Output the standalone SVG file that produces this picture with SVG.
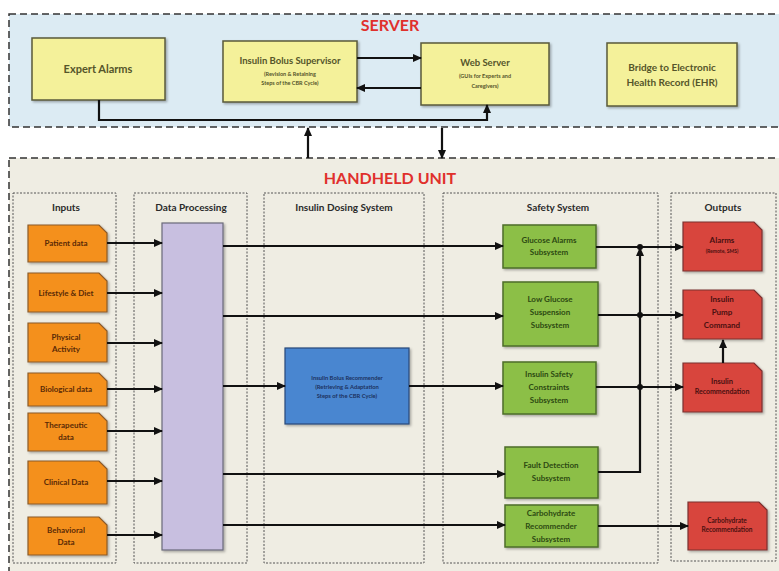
<svg xmlns="http://www.w3.org/2000/svg" width="779" height="571" viewBox="0 0 779 571">
<style>
text{font-family:Lato,"Open Sans","Liberation Sans",sans-serif;font-weight:bold;text-anchor:middle}
.title{fill:#e0302c;font-size:16px}
.col{fill:#2a2a2a;font-size:10px}
.yel{fill:#f4f19a;stroke:#5a5a3a;stroke-width:1.5}
.yt{fill:#55552a}
.inp{fill:#f4901e;stroke:#8a5a2a;stroke-width:1.2}
.it{fill:#5a2a06;font-size:8px}
.grn{fill:#8cbf47;stroke:#4d6e2a;stroke-width:1.5}
.gt{fill:#2d4a12;font-size:8px}
.red{fill:#d8453c;stroke:#7a3030;stroke-width:1.2}
.rt{fill:#4a1010}
.frame{stroke:#333;stroke-width:1.5;stroke-dasharray:7 4}
.sub{fill:none;stroke:#555;stroke-width:1;stroke-dasharray:2 1.5}
#connectors path{fill:none;stroke:#111;stroke-width:2.2}
</style>
<defs>
<marker id="ar" markerWidth="9" markerHeight="8" refX="8" refY="4" orient="auto" markerUnits="userSpaceOnUse">
<path d="M0,0 L9,4 L0,8 Z" fill="#111"/>
</marker>
<filter id="sh" x="-10%" y="-10%" width="130%" height="130%">
<feDropShadow dx="1.5" dy="1.5" stdDeviation="1" flood-color="#000" flood-opacity="0.3"/>
</filter>
</defs>
<rect width="779" height="571" fill="#ffffff"/>

<g id="server">
<rect class="frame" x="9" y="14" width="790" height="113" fill="#dcebf3"/>
<text class="title" x="390" y="31">SERVER</text>
</g>
<g id="handheld">
<rect class="frame" x="9" y="158" width="790" height="430" fill="#efede3"/>
<text class="title" x="390" y="184">HANDHELD UNIT</text>
</g>

<g id="col-inputs"><rect class="sub" x="13" y="193" width="103" height="370"/><text class="col" x="66" y="211">Inputs</text></g>
<g id="col-processing"><rect class="sub" x="134" y="193" width="113" height="370"/><text class="col" x="191" y="211">Data Processing</text></g>
<g id="col-dosing"><rect class="sub" x="264" y="193" width="160" height="370"/><text class="col" x="344" y="211">Insulin Dosing System</text></g>
<g id="col-safety"><rect class="sub" x="443" y="193" width="215" height="370"/><text class="col" x="558" y="211">Safety System</text></g>
<g id="col-outputs"><rect class="sub" x="671" y="193" width="105" height="368"/><text class="col" x="723" y="211">Outputs</text></g>

<g id="expert-alarms"><rect class="yel" x="32" y="38" width="133" height="62" filter="url(#sh)"/><text class="yt" x="98" y="73" font-size="11">Expert Alarms</text></g>
<g id="bolus-supervisor"><rect class="yel" x="223" y="41" width="134" height="61" filter="url(#sh)"/>
<text class="yt" x="290" y="64" font-size="9.5">Insulin Bolus Supervisor</text>
<text class="yt" x="290" y="76" font-size="5.5">(Revision &amp; Retaining</text>
<text class="yt" x="290" y="85" font-size="5.5">Steps of the CBR Cycle)</text></g>
<g id="web-server"><rect class="yel" x="421" y="43" width="128" height="62" filter="url(#sh)"/>
<text class="yt" x="485" y="66" font-size="9.5">Web Server</text>
<text class="yt" x="485" y="78" font-size="5.5">(GUIs for Experts and</text>
<text class="yt" x="485" y="88" font-size="5.5">Caregivers)</text></g>
<g id="ehr-bridge"><rect class="yel" x="607" y="43" width="130" height="63" filter="url(#sh)"/>
<text class="yt" x="672" y="71" font-size="10">Bridge to Electronic</text>
<text class="yt" x="672" y="86" font-size="10">Health Record (EHR)</text></g>

<g id="in-patient"><path class="inp" d="M28,225 H99 L107,233 V262 H28 Z" filter="url(#sh)"/><text class="it" x="66" y="246">Patient data</text></g>
<g id="in-lifestyle"><path class="inp" d="M28,273 H99 L107,281 V312 H28 Z" filter="url(#sh)"/><text class="it" x="66" y="296">Lifestyle &amp; Diet</text></g>
<g id="in-physical"><path class="inp" d="M28,323 H99 L107,331 V362 H28 Z" filter="url(#sh)"/><text class="it" x="66" y="340">Physical</text><text class="it" x="66" y="352">Activity</text></g>
<g id="in-biological"><path class="inp" d="M28,373 H99 L107,381 V406 H28 Z" filter="url(#sh)"/><text class="it" x="66" y="392">Biological data</text></g>
<g id="in-therapeutic"><path class="inp" d="M28,413 H99 L107,421 V451 H28 Z" filter="url(#sh)"/><text class="it" x="66" y="428">Therapeutic</text><text class="it" x="66" y="440">data</text></g>
<g id="in-clinical"><path class="inp" d="M28,461 H99 L107,469 V504 H28 Z" filter="url(#sh)"/><text class="it" x="66" y="485">Clinical Data</text></g>
<g id="in-behavioral"><path class="inp" d="M28,517 H99 L107,525 V555 H28 Z" filter="url(#sh)"/><text class="it" x="66" y="533">Behavioral</text><text class="it" x="66" y="545">Data</text></g>

<g id="data-processing"><rect x="162" y="223" width="61" height="327" fill="#c8bfe0" stroke="#6a6a7a" stroke-width="1.2" filter="url(#sh)"/></g>

<g id="bolus-recommender"><rect x="285" y="348" width="124" height="76" fill="#4a86d0" stroke="#2a4a7a" stroke-width="1.2" filter="url(#sh)"/>
<text x="347" y="380" font-size="5.8" fill="#1c3260">Insulin Bolus Recommender</text>
<text x="347" y="389" font-size="5.8" fill="#1c3260">(Retrieving &amp; Adaptation</text>
<text x="347" y="398" font-size="5.8" fill="#1c3260">Steps of the CBR Cycle)</text></g>

<g id="glucose-alarms"><rect class="grn" x="503" y="225" width="93" height="43" filter="url(#sh)"/><text class="gt" x="549" y="243">Glucose Alarms</text><text class="gt" x="549" y="255">Subsystem</text></g>
<g id="low-glucose"><rect class="grn" x="503" y="282" width="95" height="64" filter="url(#sh)"/><text class="gt" x="550" y="302">Low Glucose</text><text class="gt" x="550" y="315">Suspension</text><text class="gt" x="550" y="328">Subsystem</text></g>
<g id="safety-constraints"><rect class="grn" x="503" y="362" width="93" height="52" filter="url(#sh)"/><text class="gt" x="549" y="377">Insulin Safety</text><text class="gt" x="549" y="390">Constraints</text><text class="gt" x="549" y="403">Subsystem</text></g>
<g id="fault-detection"><rect class="grn" x="505" y="447" width="93" height="51" filter="url(#sh)"/><text class="gt" x="551" y="468">Fault Detection</text><text class="gt" x="551" y="481">Subsystem</text></g>
<g id="carb-recommender"><rect class="grn" x="505" y="505" width="93" height="42" filter="url(#sh)"/><text class="gt" x="551" y="516">Carbohydrate</text><text class="gt" x="551" y="529">Recommender</text><text class="gt" x="551" y="542">Subsystem</text></g>

<g id="out-alarms"><path class="red" d="M683,222 H754 L762,230 V271 H683 Z" filter="url(#sh)"/><text class="rt" x="722" y="243" font-size="8">Alarms</text><text class="rt" x="722" y="253" font-size="5">(Remote, SMS)</text></g>
<g id="out-pump"><path class="red" d="M683,290 H754 L762,298 V339 H683 Z" filter="url(#sh)"/><text class="rt" x="722" y="302" font-size="8">Insulin</text><text class="rt" x="722" y="315" font-size="8">Pump</text><text class="rt" x="722" y="328" font-size="8">Command</text></g>
<g id="out-insulin-rec"><path class="red" d="M683,363 H754 L762,371 V412 H683 Z" filter="url(#sh)"/><text class="rt" x="722" y="384" font-size="7.5">Insulin</text><text class="rt" x="722" y="394" font-size="7">Recommendation</text></g>
<g id="out-carb-rec"><path class="red" d="M688,502 H759 L767,510 V550 H688 Z" filter="url(#sh)"/><text class="rt" x="727" y="523" font-size="6.5">Carbohydrate</text><text class="rt" x="727" y="532" font-size="6.5">Recommendation</text></g>

<g id="connectors">
<path d="M357,58 H421" marker-end="url(#ar)"/>
<path d="M421,88 H357" marker-end="url(#ar)"/>
<path d="M99,100 V120 H487 V105" marker-end="url(#ar)"/>
<path d="M308,158 V128" marker-end="url(#ar)"/>
<path d="M442,128 V158" marker-end="url(#ar)"/>
<path d="M107,243 H162" marker-end="url(#ar)"/>
<path d="M107,293 H162" marker-end="url(#ar)"/>
<path d="M107,343 H162" marker-end="url(#ar)"/>
<path d="M107,389 H162" marker-end="url(#ar)"/>
<path d="M107,431 H162" marker-end="url(#ar)"/>
<path d="M107,481 H162" marker-end="url(#ar)"/>
<path d="M107,535 H162" marker-end="url(#ar)"/>
<path d="M223,246 H503" marker-end="url(#ar)"/>
<path d="M223,316 H503" marker-end="url(#ar)"/>
<path d="M223,386 H285" marker-end="url(#ar)"/>
<path d="M409,386 H503" marker-end="url(#ar)"/>
<path d="M223,474 H505" marker-end="url(#ar)"/>
<path d="M223,525 H505" marker-end="url(#ar)"/>
<path d="M596,247 H683" marker-end="url(#ar)"/>
<path d="M598,315 H683" marker-end="url(#ar)"/>
<path d="M596,387 H683" marker-end="url(#ar)"/>
<path d="M598,472 H640 V248" marker-end="url(#ar)"/>
<path d="M598,526 H688" marker-end="url(#ar)"/>
<path d="M723,363 V340" marker-end="url(#ar)"/>
<circle cx="640" cy="247" r="3" fill="#111"/>
<circle cx="640" cy="315" r="3" fill="#111"/>
<circle cx="640" cy="387" r="3" fill="#111"/>
</g>
</svg>
